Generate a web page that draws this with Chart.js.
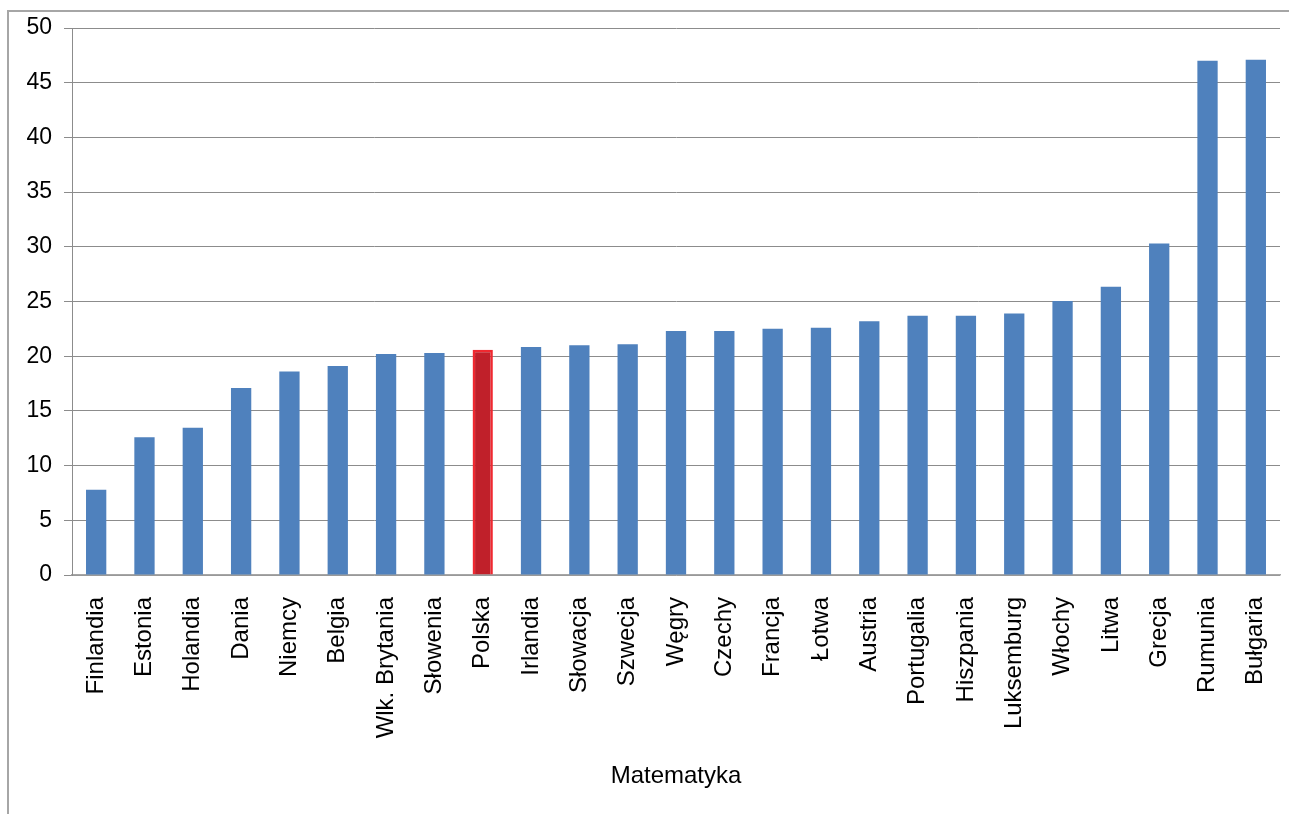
<!DOCTYPE html>
<html>
<head>
<meta charset="utf-8">
<script src="https://cdn.jsdelivr.net/npm/chart.js@4/dist/chart.umd.min.js"></script>
<style>
  html, body { margin: 0; padding: 0; background: #fff; overflow: hidden; }
  #frame { position: absolute; left: 7px; top: 10px; width: 1400px; height: 900px; border: 2px solid #a6a6a6; box-sizing: border-box; }
  #wrap { position: absolute; left: 0; top: 0; width: 1289px; height: 814px; }
</style>
</head>
<body>
<div id="frame"></div>
<div id="wrap"><canvas id="c" width="1289" height="814"></canvas></div>
<script>
const categories = ["Finlandia","Estonia","Holandia","Dania","Niemcy","Belgia","Wlk. Brytania","Słowenia","Polska","Irlandia","Słowacja","Szwecja","Węgry","Czechy","Francja","Łotwa","Austria","Portugalia","Hiszpania","Luksemburg","Włochy","Litwa","Grecja","Rumunia","Bułgaria"];
const values = [7.8,12.6,13.45,17.1,18.6,19.1,20.2,20.3,20.6,20.85,21.0,21.1,22.3,22.3,22.5,22.6,23.2,23.7,23.7,23.9,25.05,26.35,30.3,47.0,47.1];
const highlight = "Polska";
const yTicks = [0,5,10,15,20,25,30,35,40,45,50];
const axisTitle = "Matematyka";

const blue = "#4F81BD";
const red = "#C0202A";
const redBorder = "#F02830";

new Chart(document.getElementById("c"), {
  type: "bar",
  data: {
    labels: categories,
    datasets: [{
      data: values,
      backgroundColor: categories.map(c => c === highlight ? red : blue),
      borderColor: categories.map(c => c === highlight ? redBorder : blue),
      borderWidth: categories.map(c => c === highlight ? 2.5 : 0),
      categoryPercentage: 1,
      barPercentage: 0.42
    }]
  },
  options: {
    responsive: false,
    animation: false,
    layout: { padding: { top: 28, right: 9, bottom: 0, left: 0 } },
    plugins: { legend: { display: false }, tooltip: { enabled: false } },
    scales: {
      x: {
        grid: { display: false },
        border: { display: true, color: "#a6a6a6", width: 1.5 },
        ticks: {
          color: "#000",
          font: { family: "Liberation Sans", size: 24 },
          minRotation: 90, maxRotation: 90, autoSkip: false, padding: 14
        },
        title: {
          display: true, text: axisTitle, color: "#000",
          font: { family: "Liberation Sans", size: 24 },
          padding: { top: 0, bottom: 23 }
        },
        afterFit: s => { s.height = 814 - 575; s.paddingLeft = 0; s.paddingRight = 0; }
      },
      y: {
        min: 0, max: 50,
        afterBuildTicks: s => { s.ticks = yTicks.map(v => ({ value: v })); },
        grid: { color: "#8c8c8c", lineWidth: 1, tickLength: 8, drawTicks: true },
        border: { display: true, color: "#8c8c8c", width: 1 },
        ticks: {
          color: "#000",
          font: { family: "Liberation Sans", size: 23 },
          padding: 12
        },
        afterFit: s => { s.width = 72; }
      }
    }
  }
});
</script>
</body>
</html>
